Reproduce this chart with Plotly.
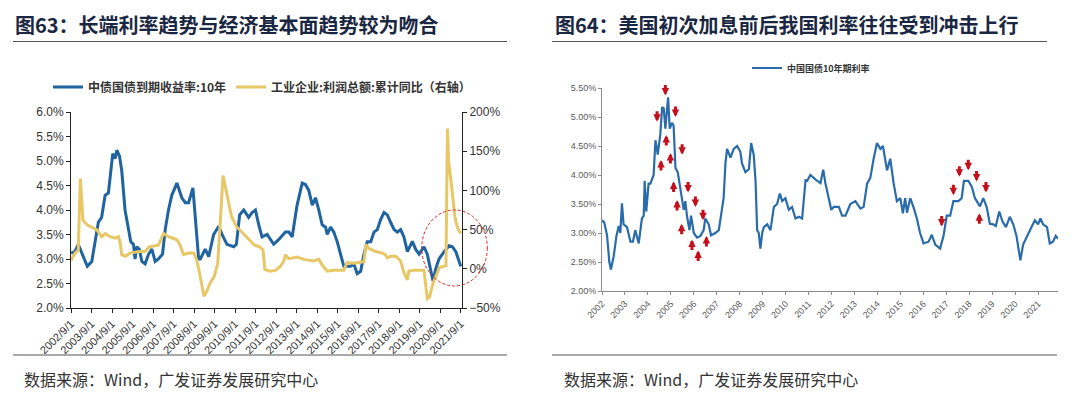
import plotly.graph_objects as go
import pandas as pd

# ---------------- data: left panel (Fig 63) ----------------
# decimal-year positions and values
cgb10_left_t = [2002.67, 2002.86, 2003.02, 2003.27, 2003.46, 2003.68, 2003.92, 2004.0, 2004.16, 2004.33,
                2004.49, 2004.57, 2004.7, 2004.82, 2004.9, 2005.03, 2005.14, 2005.3, 2005.47, 2005.58,
                2005.71, 2005.79, 2005.87, 2006.0, 2006.12, 2006.28, 2006.45, 2006.61, 2006.77, 2006.93,
                2007.13, 2007.26, 2007.42, 2007.58, 2007.83, 2008.07, 2008.24, 2008.4, 2008.61, 2008.72,
                2008.89, 2008.97, 2009.21, 2009.38, 2009.62, 2009.87, 2010.03, 2010.27, 2010.6, 2010.73,
                2010.89, 2011.09, 2011.33, 2011.5, 2011.66, 2011.82, 2011.98, 2012.23, 2012.4, 2012.55,
                2012.8, 2013.12, 2013.29, 2013.45, 2013.69, 2013.94, 2014.1, 2014.26, 2014.43, 2014.59,
                2014.75, 2014.91, 2015.08, 2015.16, 2015.32, 2015.48, 2015.65, 2015.81, 2015.97, 2016.3,
                2016.46, 2016.62, 2016.79, 2016.95, 2017.11, 2017.28, 2017.44, 2017.6, 2017.76, 2017.93,
                2018.09, 2018.25, 2018.42, 2018.58, 2018.74, 2018.9, 2019.07, 2019.31, 2019.47, 2019.64,
                2019.88, 2020.04, 2020.21, 2020.32, 2020.45, 2020.61, 2020.86, 2021.1, 2021.26, 2021.43,
                2021.51, 2021.67]
cgb10_left_v = [3.12, 3.15, 3.3, 3.05, 2.85, 2.95, 3.5, 3.75, 3.85, 4.3,
                4.35, 4.7, 5.15, 5.05, 5.22, 5.1, 4.8, 4.0, 3.6, 3.35,
                3.3, 3.0, 3.25, 3.2, 2.95, 2.9, 3.1, 3.2, 2.95, 3.0,
                3.1, 3.6, 4.0, 4.3, 4.55, 4.25, 4.15, 4.15, 4.45, 3.8,
                3.0, 3.0, 3.2, 3.05, 3.5, 3.67, 3.5, 3.3, 3.25, 3.3,
                3.9, 4.0, 3.85, 3.95, 4.0, 3.7, 3.45, 3.5, 3.4, 3.3,
                3.4, 3.55, 3.55, 3.45, 4.1, 4.55, 4.52, 4.4, 4.1, 4.25,
                4.0, 3.7, 3.65, 3.5, 3.65, 3.55, 3.35, 3.1, 2.85, 2.85,
                2.9, 2.7, 2.75, 3.1, 3.35, 3.35, 3.55, 3.6, 3.8, 3.95,
                3.9, 3.75, 3.6, 3.55, 3.6, 3.45, 3.15, 3.36, 3.2, 3.1,
                3.25, 3.1, 2.8, 2.55, 2.8, 3.0, 3.15, 3.27, 3.25, 3.15,
                3.05, 2.85]

profit_t = [2002.67, 2002.86, 2003.02, 2003.12, 2003.25, 2003.45, 2003.92, 2004.16, 2004.33, 2004.57,
            2004.82, 2004.98, 2005.06, 2005.14, 2005.3, 2005.54, 2006.0, 2006.28, 2006.48, 2006.93,
            2007.18, 2007.42, 2007.83, 2007.99, 2008.15, 2008.4, 2008.65, 2008.8, 2008.93, 2009.15,
            2009.28, 2009.45, 2009.65, 2009.82, 2010.08, 2010.32, 2010.49, 2010.73, 2011.05, 2011.3,
            2011.62, 2011.87, 2012.03, 2012.12, 2012.39, 2012.63, 2012.88, 2013.04, 2013.12, 2013.28,
            2013.69, 2014.02, 2014.5, 2014.75, 2014.91, 2015.16, 2015.48, 2015.97, 2016.13, 2016.46,
            2016.79, 2016.95, 2017.04, 2017.2, 2017.52, 2017.85, 2017.99, 2018.09, 2018.25, 2018.5,
            2018.74, 2018.9, 2019.07, 2019.14, 2019.39, 2019.88, 2020.04, 2020.15, 2020.31, 2020.42,
            2020.64, 2020.8, 2020.95, 2021.02, 2021.08, 2021.22, 2021.3, 2021.38, 2021.47, 2021.55,
            2021.67]
profit_v = [11, 20, 24, 115, 62, 56, 50, 41, 45, 41,
            39, 41, 33, 18, 16, 20, 22, 22, 28, 30,
            45, 41, 37, 30, 18, 20, 20, 11, -5, -35,
            -29, -18, -10, 7, 119, 88, 67, 54, 45, 39,
            30, 28, 24, -1, -3, -2, 3, 10, 18, 13,
            15, 12, 10, 12, 5, -3, -2, -2, 8, 7,
            8, 9, 31, 26, 22, 20, 18, 14, 16, 16,
            10, -5, -14, -3, -2, -2, -38, -36, -19, -12,
            2, 3, 4, 179, 137, 106, 83, 67, 57, 50,
            45]

# ---------------- data: right panel (Fig 64) ----------------
cgb10_right_t = [2002.0, 2002.1, 2002.22, 2002.32, 2002.39, 2002.51, 2002.63, 2002.73, 2002.8, 2002.87,
                 2002.94, 2003.09, 2003.24, 2003.35, 2003.45, 2003.6, 2003.74, 2003.82, 2003.86, 2003.93,
                 2004.03, 2004.11, 2004.25, 2004.33, 2004.43, 2004.54, 2004.62, 2004.69, 2004.76, 2004.83,
                 2004.88, 2004.95, 2005.05, 2005.12, 2005.2, 2005.3, 2005.42, 2005.56, 2005.63, 2005.7,
                 2005.81, 2005.88, 2006.0, 2006.14, 2006.29, 2006.43, 2006.5, 2006.65, 2006.75, 2006.94,
                 2007.09, 2007.23, 2007.3, 2007.38, 2007.45, 2007.6, 2007.74, 2007.89, 2008.03, 2008.1,
                 2008.25, 2008.4, 2008.5, 2008.61, 2008.69, 2008.76, 2008.83, 2008.9, 2008.98, 2009.05,
                 2009.2, 2009.34, 2009.49, 2009.63, 2009.75, 2009.85, 2009.99, 2010.14, 2010.28, 2010.43,
                 2010.58, 2010.72, 2010.87, 2010.94, 2011.08, 2011.31, 2011.52, 2011.64, 2011.74, 2011.88,
                 2011.99, 2012.1, 2012.32, 2012.46, 2012.61, 2012.82, 2013.04, 2013.26, 2013.4, 2013.55,
                 2013.69, 2013.84, 2013.98, 2014.13, 2014.24, 2014.42, 2014.56, 2014.71, 2014.85, 2015.0,
                 2015.11, 2015.21, 2015.29, 2015.43, 2015.57, 2015.72, 2015.86, 2016.01, 2016.23, 2016.37,
                 2016.52, 2016.73, 2016.88, 2017.02, 2017.17, 2017.31, 2017.53, 2017.67, 2017.77, 2017.96,
                 2018.11, 2018.25, 2018.4, 2018.47, 2018.61, 2018.76, 2018.9, 2019.05, 2019.16, 2019.31,
                 2019.45, 2019.6, 2019.77, 2019.92, 2020.06, 2020.23, 2020.35, 2020.57, 2020.71, 2020.86,
                 2021.0, 2021.1, 2021.22, 2021.39, 2021.51, 2021.65, 2021.77, 2021.87]
cgb10_right_v = [3.22, 3.18, 2.96, 2.5, 2.37, 2.6, 2.95, 3.12, 3.0, 3.51,
                 3.15, 3.1, 2.85, 2.85, 3.05, 2.82, 3.25, 3.3, 3.9, 3.37,
                 3.85, 3.85, 4.0, 4.6, 4.35, 4.7, 5.17, 5.15, 4.8, 5.1,
                 5.34, 4.8, 4.9, 4.85, 4.12, 4.05, 3.75, 3.4, 3.55, 3.3,
                 3.05, 3.3, 3.0, 2.92, 2.95, 3.05, 3.25, 3.15, 2.96, 3.0,
                 3.05, 3.4, 3.6, 4.2, 4.45, 4.3, 4.45, 4.5, 4.4, 4.2,
                 4.05, 4.1, 4.55, 4.35, 3.9, 3.05, 3.0, 2.73, 3.0, 3.1,
                 3.15, 3.05, 3.45, 3.5, 3.68, 3.55, 3.6, 3.4, 3.45, 3.25,
                 3.28, 3.25, 3.91, 3.9, 4.0, 3.92, 3.86, 4.09, 3.85, 3.6,
                 3.4, 3.45, 3.45, 3.3, 3.3, 3.5, 3.55, 3.42, 3.45, 3.85,
                 3.95, 4.29, 4.55, 4.45, 4.5, 4.08, 4.28, 3.85, 3.55, 3.6,
                 3.34, 3.6, 3.35, 3.6, 3.45, 3.25, 3.0, 2.82, 2.85, 2.97,
                 2.8, 2.73, 2.95, 3.3, 3.3, 3.55, 3.55, 3.6, 3.9, 3.9,
                 3.8, 3.6, 3.5, 3.46, 3.6, 3.45, 3.16, 3.15, 3.12, 3.37,
                 3.2, 3.1, 3.28, 3.15, 2.95, 2.53, 2.8, 3.0, 3.1, 3.22,
                 3.15, 3.25, 3.15, 3.1, 2.82, 2.85, 2.95, 2.9]

# red arrow markers (tip position: decimal year, yield)
down_arrow_t = [2004.4, 2004.76, 2005.2, 2005.49, 2005.75, 2006.07, 2006.4,
                2016.8, 2017.31, 2017.57, 2017.96, 2018.32, 2018.73]
down_arrow_v = [4.92, 5.37, 5.0, 4.35, 3.7, 3.45, 3.22,
                3.11, 3.65, 3.97, 4.08, 3.89, 3.7]
up_arrow_t = [2004.57, 2004.8, 2004.98, 2005.12, 2005.27, 2005.47, 2005.92, 2006.19, 2006.55, 2018.44]
up_arrow_v = [4.26, 4.69, 4.38, 3.89, 3.57, 3.16, 2.89, 2.7, 2.95, 3.34]

# text
title_left = "图63：长端利率趋势与经济基本面趋势较为吻合"
title_right = "图64：美国初次加息前后我国利率往往受到冲击上行"
source_text = "数据来源：Wind，广发证券发展研究中心"
name_blue_left = "中债国债到期收益率:10年"
name_yellow = "工业企业:利润总额:累计同比（右轴）"
name_blue_right = "中国国债10年期利率"


def to_date(dec_years):
    out = []
    for y in dec_years:
        yr = int(y)
        start = pd.Timestamp(year=yr, month=1, day=1)
        end = pd.Timestamp(year=yr + 1, month=1, day=1)
        out.append(start + (end - start) * (y - yr))
    return out


W, H = 1080, 393
CJK = "Noto Sans CJK SC"
LAT = "Liberation Sans, Arial, sans-serif"
BLUE_L = "#1f63a0"
YELLOW = "#e8c767"
BLUE_R = "#2a6cab"
ARROW = "#c4101c"

fig = go.Figure()

fig.add_trace(go.Scatter(x=to_date(cgb10_left_t), y=cgb10_left_v, mode="lines",
                         name="<b>" + name_blue_left + "</b>", legendrank=1,
                         line=dict(color=BLUE_L, width=3), xaxis="x", yaxis="y"))
fig.add_trace(go.Scatter(x=to_date(profit_t), y=profit_v, mode="lines",
                         name="<b>" + name_yellow + "</b>", legendrank=2,
                         line=dict(color=YELLOW, width=3), xaxis="x", yaxis="y2"))
fig.add_trace(go.Scatter(x=to_date(cgb10_right_t), y=cgb10_right_v, mode="lines",
                         name="<b>" + name_blue_right + "</b>", legend="legend2",
                         line=dict(color=BLUE_R, width=2.2), xaxis="x3", yaxis="y3"))

def px_x(p):
    return p / W

def px_y(p):
    return 1 - p / H

axis_font = dict(family=LAT, size=12, color="#333333")
small_font = dict(family=LAT, size=9, color="#595959")

fig.update_layout(
    template="none",
    width=W, height=H, autosize=False,
    margin=dict(l=0, r=0, t=0, b=0, autoexpand=False),
    paper_bgcolor="white", plot_bgcolor="white",
    showlegend=True,
    xaxis=dict(domain=[px_x(71), px_x(462)], anchor="y", type="date", automargin=False,
               range=["2002-09-01", "2021-09-25"], tick0="2002-09-01", dtick="M12",
               tickformat="%Y/%-m/%-d", tickangle=-45, tickfont=dict(family=LAT, size=11, color="#333333"),
               showline=True, linecolor="#222", linewidth=1, ticks="outside", ticklen=4, tickcolor="#222",
               showgrid=False, zeroline=False),
    yaxis=dict(domain=[px_y(308), px_y(112)], anchor="x", range=[2.0, 6.0], dtick=0.5, automargin=False,
               tickformat=".1f", ticksuffix="%", tickfont=axis_font,
               showline=True, linecolor="#222", linewidth=1, ticks="outside", ticklen=4, tickcolor="#222",
               showgrid=False, zeroline=False),
    yaxis2=dict(overlaying="y", side="right", anchor="x", range=[-50, 200], dtick=50, automargin=False,
                tickformat="d", ticksuffix="%", tickfont=axis_font,
                showline=True, linecolor="#222", linewidth=1, ticks="outside", ticklen=4, tickcolor="#222",
                showgrid=False, zeroline=False),
    xaxis3=dict(domain=[px_x(602), px_x(1058)], anchor="y3", type="date", automargin=False,
                range=["2002-01-01", "2021-11-14"], tick0="2002-01-01", dtick="M12",
                tickformat="%Y", tickangle=-45, tickfont=small_font,
                showline=True, linecolor="#8c8c8c", linewidth=1, ticks="outside", ticklen=3,
                tickcolor="#8c8c8c", showgrid=False, zeroline=False),
    yaxis3=dict(domain=[px_y(291), px_y(88)], anchor="x3", range=[2.0, 5.5], dtick=0.5, automargin=False,
                tickformat=".2f", ticksuffix="%", tickfont=small_font,
                showline=True, linecolor="#8c8c8c", linewidth=1, ticks="outside", ticklen=3,
                tickcolor="#8c8c8c", showgrid=False, zeroline=False),
    legend=dict(orientation="h", x=px_x(262), y=px_y(87), xanchor="center", yanchor="middle",
                font=dict(family=CJK, size=12, color="#333333"), bgcolor="rgba(0,0,0,0)",
                itemwidth=30),
    legend2=dict(orientation="h", x=px_x(811), y=px_y(68), xanchor="center", yanchor="middle",
                 font=dict(family=CJK, size=9, color="#333333"), bgcolor="rgba(0,0,0,0)",
                 itemwidth=30),
)

annotations = []
for t, txt in [(13, title_left), (553, title_right)]:
    annotations.append(dict(text="<b>" + txt + "</b>", xref="paper", yref="paper",
                            x=px_x(t), y=px_y(25), xanchor="left", yanchor="middle",
                            showarrow=False, font=dict(family=CJK, size=20, color="#1a2742")))
for t in [22, 562]:
    annotations.append(dict(text=source_text, xref="paper", yref="paper",
                            x=px_x(t), y=px_y(379), xanchor="left", yanchor="middle",
                            showarrow=False, font=dict(family=CJK, size=16, color="#333333")))

for t, v in zip(to_date(down_arrow_t), down_arrow_v):
    annotations.append(dict(x=t, y=v, xref="x3", yref="y3", text="", showarrow=True,
                            ax=0, ay=-12, arrowhead=2, arrowsize=0.5, arrowwidth=3,
                            arrowcolor=ARROW, standoff=0))
for t, v in zip(to_date(up_arrow_t), up_arrow_v):
    annotations.append(dict(x=t, y=v, xref="x3", yref="y3", text="", showarrow=True,
                            ax=0, ay=12, arrowhead=2, arrowsize=0.5, arrowwidth=3,
                            arrowcolor=ARROW, standoff=0))
fig.update_layout(annotations=annotations)

shapes = [
    dict(type="line", xref="paper", yref="paper", x0=px_x(13), x1=px_x(507), y0=px_y(41.5), y1=px_y(41.5),
         line=dict(color="#555555", width=1)),
    dict(type="line", xref="paper", yref="paper", x0=px_x(552), x1=px_x(1047), y0=px_y(41.5), y1=px_y(41.5),
         line=dict(color="#555555", width=1)),
    dict(type="line", xref="paper", yref="paper", x0=px_x(13), x1=px_x(507), y0=px_y(355), y1=px_y(355),
         line=dict(color="#555555", width=1)),
    dict(type="line", xref="paper", yref="paper", x0=px_x(552), x1=px_x(1057), y0=px_y(355), y1=px_y(355),
         line=dict(color="#555555", width=1)),
    dict(type="circle", xref="paper", yref="paper", x0=px_x(421.7), x1=px_x(487.3), y0=px_y(286), y1=px_y(210),
         line=dict(color="#e02020", width=1, dash="3px,2px")),
]
fig.update_layout(shapes=shapes)

fig.write_html("out.html", config={"displayModeBar": False},
               post_script="document.body.style.margin='0';document.body.style.padding='0';"
                           "document.documentElement.style.overflow='hidden';")
